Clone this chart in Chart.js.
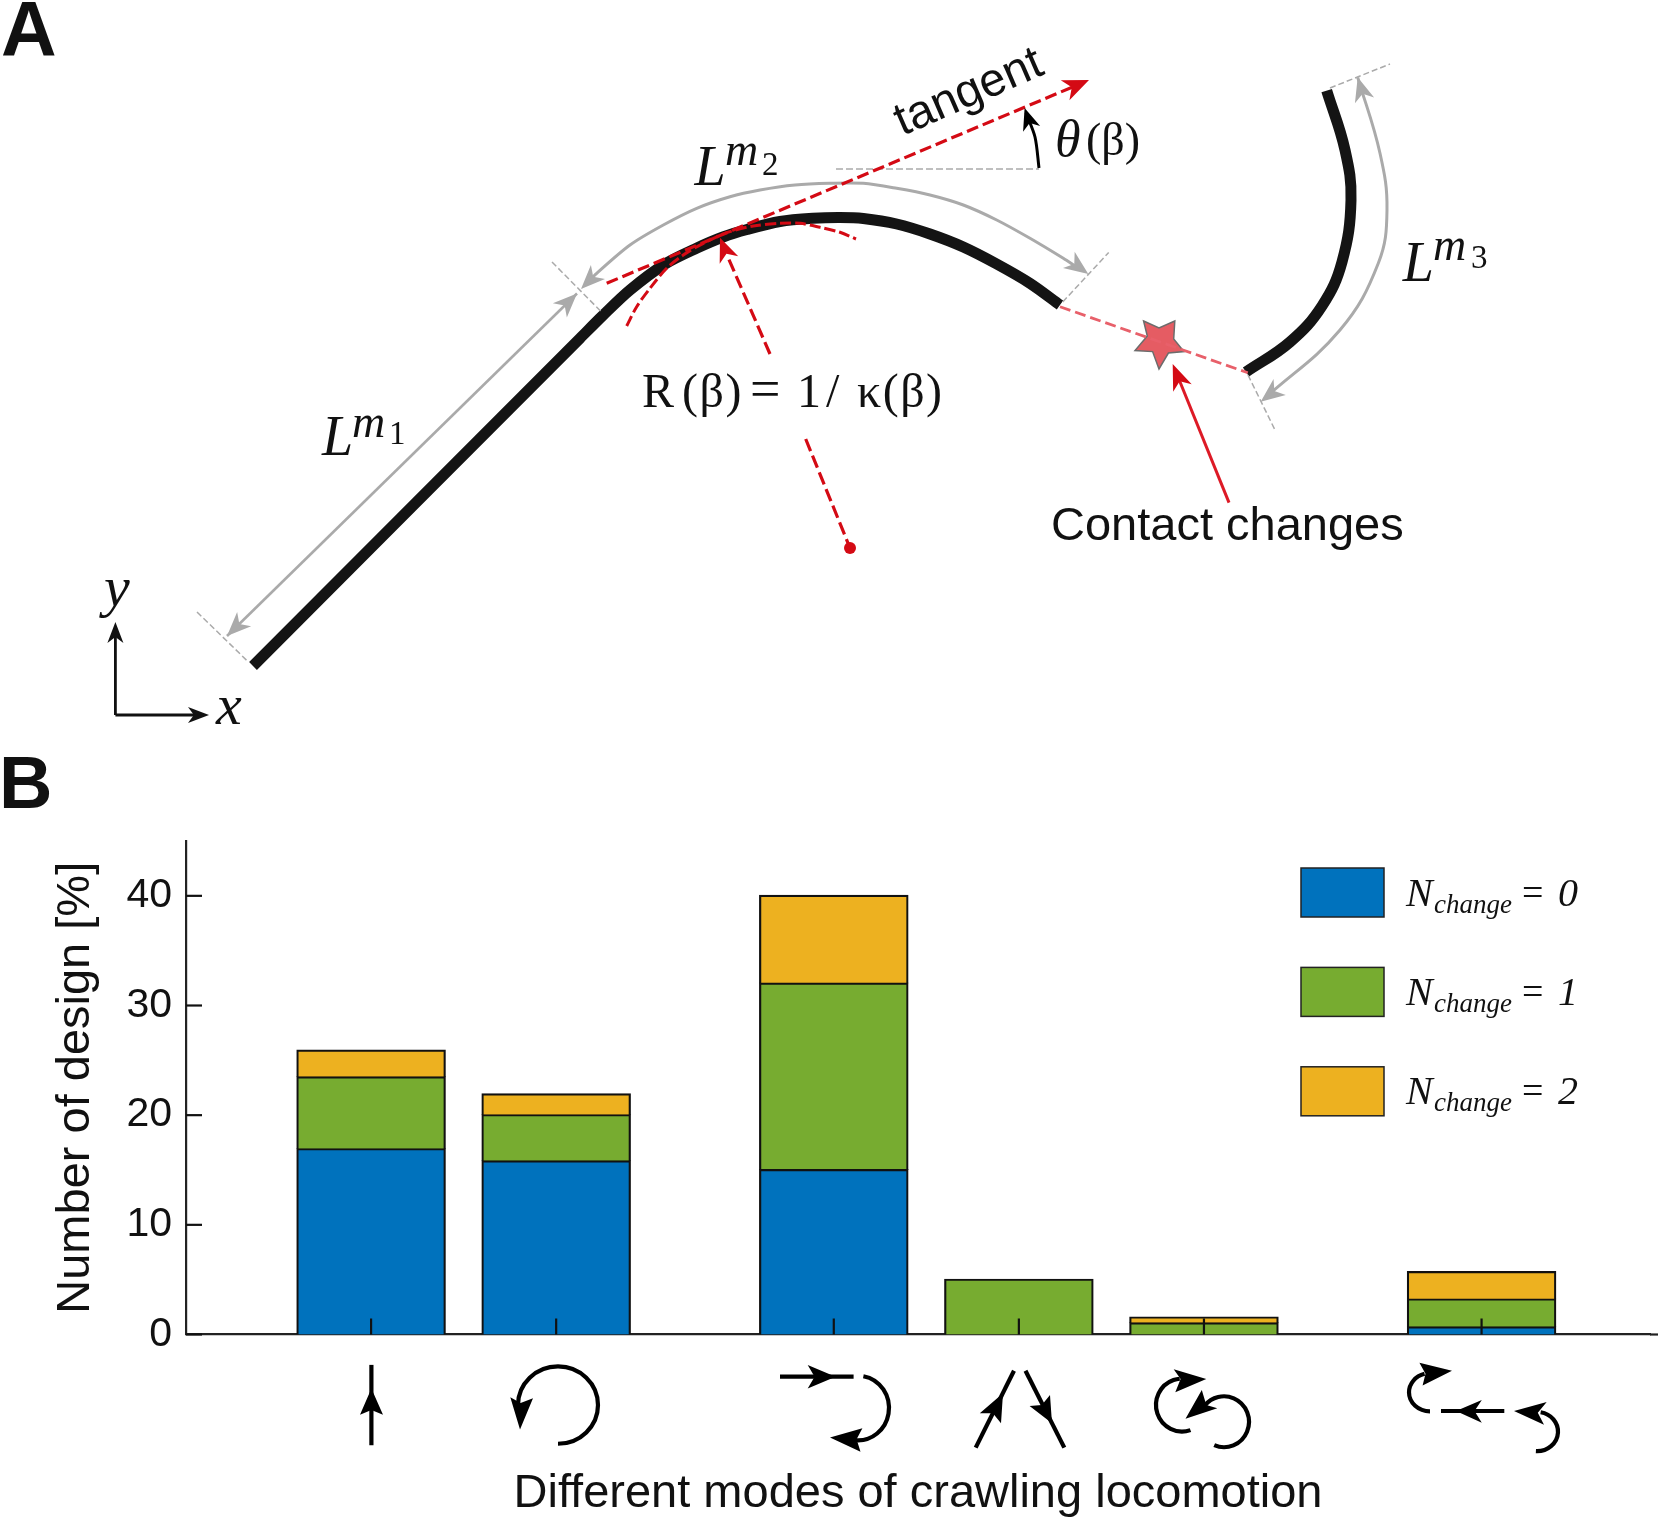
<!DOCTYPE html>
<html><head><meta charset="utf-8">
<style>
html,body{margin:0;padding:0;background:#fff;width:1658px;height:1525px;overflow:hidden}
canvas{position:absolute;left:0;top:0}
</style>
<script src="https://cdn.jsdelivr.net/npm/chart.js@4"></script>
</head><body>
<canvas id="bars" width="1658" height="1525"></canvas>
<canvas id="schematic" width="1658" height="745"></canvas>
<script>
// ---------- chart data (panel B) ----------
const modes = ['straight','turn','straight then turn','split','double turn','turn, straight, turn'];
const modePositions = [1,2,3.5,4.5,5.5,7];
const nChange0 = [16.9,15.8,15,0,0,0.65];
const nChange1 = [6.55,4.2,17,5,1.03,2.55];
const nChange2 = [2.45,1.9,8,0,0.53,2.5];
const seriesLabels = ['N change = 0','N change = 1','N change = 2'];
const yTickValues = [0,10,20,30,40];

const SANS='"Liberation Sans"', SERIF='"Liberation Serif"', INK='#111';

function toXY(vals){return vals.map((v,i)=>({x:modePositions[i],y:v}));}
function stroke(c,pts,w,col,dash){c.save();c.beginPath();c.lineWidth=w;c.strokeStyle=col;c.setLineDash(dash||[]);
  c.moveTo(pts[0][0],pts[0][1]);for(let i=1;i<pts.length;i++)c.lineTo(pts[i][0],pts[i][1]);c.stroke();c.restore();}
function poly(c,pts,fill){c.beginPath();c.moveTo(pts[0][0],pts[0][1]);for(let i=1;i<pts.length;i++)c.lineTo(pts[i][0],pts[i][1]);c.closePath();c.fillStyle=fill;c.fill();}
function txt(c,s,x,y,font,col,align,spacing){c.save();c.font=font;c.fillStyle=col||INK;c.textAlign=align||'left';c.textBaseline='alphabetic';
  if(spacing)c.letterSpacing=spacing+'px';c.fillText(s,x,y);c.restore();}

// Mode pictograms below the axis: lines, elliptical arcs and stealth heads [tip, wing, notch, wing]
const iconLines=[
 [[371.4,1366],[371.4,1448]],
 [[780,1378],[853.6,1378]],
 [[975.7,1450.5],[1014,1372]],
 [[1025.5,1372],[1064.3,1450.5]],
 [[1441,1413],[1504.3,1413]]];
const iconArcs=[ // cx, cy, rx, ry, start deg, end deg, anticlockwise
 [558,1407,40,39.5,90,180,true],
 [858,1410,31,33,-80,94,false],
 [1182,1407,26,27,71,265,false],
 [1224,1424,25,26,113,-140,true],
 [1430,1394,21,19.5,90,255,false],
 [1537,1434,21,20,93,-80,true]];
const iconHeads=[
 [[371.4,1390],[360,1417],[371.4,1412],[383,1417]],
 [[520,1432],[510.3,1399],[520.6,1405],[533,1400]],
 [[835.6,1378],[807.7,1366],[814.6,1378],[807.7,1390]],
 [[830,1440],[862.4,1430.7],[856.6,1442],[860.5,1454.6]],
 [[1003,1395],[979.8,1415.4],[992.9,1415.4],[1001,1425.6]],
 [[1052,1425.6],[1029.6,1408],[1041.8,1407],[1050,1396.7]],
 [[1206.3,1380.4],[1173.7,1370.5],[1180.6,1380.4],[1175.3,1394]],
 [[1185.5,1421],[1201.8,1391.6],[1206.3,1407],[1217.3,1410.3]],
 [[1452,1372],[1419.4,1363.7],[1425.5,1375],[1422.6,1387]],
 [[1456,1413],[1481.8,1401.8],[1474.5,1413],[1481.8,1425]],
 [[1514,1413],[1546.7,1404],[1537.8,1414.8],[1544,1427]]];

const barDecor={id:'barDecor',
 afterDatasetsDraw(ch){
  const c=ch.ctx,xs=ch.scales.x,ys=ch.scales.y,base=ys.getPixelForValue(0),L=xs.left;
  modePositions.forEach(v=>{const p=xs.getPixelForValue(v);stroke(c,[[p,base],[p,base-16]],2.2,INK);});
  yTickValues.forEach(v=>{const p=ys.getPixelForValue(v);stroke(c,[[L,p],[L+16,p]],2.2,INK);});
  stroke(c,[[xs.right,base],[1658,base]],2.2,'#222');
  // panel letter
  txt(c,'B',-1,808,'bold 74px '+SANS,INK);
  // legend
  ch.data.datasets.forEach((d,i)=>{
    const top=868+i*99.4, base=top+37.5;
    c.fillStyle=d.backgroundColor;c.fillRect(1301,top,83,49);
    c.strokeStyle='#222';c.lineWidth=1.5;c.strokeRect(1301,top,83,49);
    const parts=d.label.split(' ');
    txt(c,parts[0],1406,base,'italic 40px '+SERIF,INK);
    txt(c,parts[1],1434,base+7,'italic 27px '+SERIF,INK);
    txt(c,parts[2],1522,base-1,'38px '+SERIF,INK);
    txt(c,parts[3],1558,base,'italic 40px '+SERIF,INK);
  });
  // pictograms
  c.save();c.translate(0,1310);c.scale(1,0.98);c.translate(0,-1310);
  iconLines.forEach(l=>stroke(c,l,4.2,'#000'));
  iconArcs.forEach(a=>{c.save();c.beginPath();c.lineWidth=4.2;c.strokeStyle='#000';
    c.ellipse(a[0],a[1],a[2],a[3],0,a[4]*Math.PI/180,a[5]*Math.PI/180,a[6]);c.stroke();c.restore();});
  iconHeads.forEach(h=>poly(c,h,'#000'));
  c.restore();
 }};

new Chart(document.getElementById('bars'),{
 type:'bar',
 data:{labels:modes,datasets:[
  {label:seriesLabels[0],data:toXY(nChange0),backgroundColor:'#0072BD'},
  {label:seriesLabels[1],data:toXY(nChange1),backgroundColor:'#77AC30'},
  {label:seriesLabels[2],data:toXY(nChange2),backgroundColor:'#EDB120'}
 ].map(d=>Object.assign(d,{borderColor:'#111',borderWidth:2.2,inflateAmount:1,barThickness:147.5}))},
 options:{responsive:false,animation:false,events:[],
  layout:{padding:{left:0,right:8,top:841,bottom:0}},
  plugins:{legend:{display:false},tooltip:{enabled:false}},
  scales:{
   x:{type:'linear',stacked:true,offset:false,min:0,max:7.91,
      afterBuildTicks(s){s.ticks=modePositions.map(v=>({value:v}));},
      afterFit(s){s.height=190.5;},
      grid:{display:false,drawTicks:false,offset:false},
      border:{color:'#222',width:2.2},
      ticks:{display:false},
      title:{display:true,text:'Different modes of crawling locomotion',color:INK,
             font:{family:SANS,size:47},padding:{top:0,bottom:3}}},
   y:{stacked:true,min:0,max:45,
      afterFit(s){s.width=186;},
      grid:{display:false,drawTicks:false},
      border:{color:'#222',width:2.2},
      ticks:{stepSize:10,includeBounds:false,color:INK,padding:14,font:{family:SANS,size:41}},
      title:{display:true,text:'Number of design [%]',color:INK,
             font:{family:SANS,size:47},padding:{top:47.5,bottom:0}}}
  }},
 plugins:[barDecor]});

// ---------- schematic (panel A) ----------
const RED='#d40a14', GREY='#aaaaaa';
const pathM1M2=[[253,666],[580,338.3],[603.3,315],[630,290],[665,264],[697,248],[723,237],[747,229.5],[780,221.5],[813,218.3],[840,217.5],[863.3,218.5],[896.7,224],[930,234],[963.3,247],[996.7,264],[1030,283.3],[1060,305]];
const pathM3=[[1326.7,90.7],[1345,150],[1351,200],[1342,262],[1322,306],[1290,342],[1246,372]];
const arrowM1=[[577,293.5],[227,636]];
const arrowM2=[[585,285],[596.7,273.3],[630,245],[663.3,225],[696.7,208.3],[730,196.7],[760,190],[795,185],[830,183.3],[863.3,183.3],[896.7,188.3],[930,195],[963.3,205],[996.7,220],[1030,238.3],[1063.3,258.3],[1075,266]];
const arrowM3=[[1357.7,77.3],[1380,153.3],[1387,210],[1378.3,263.3],[1340,330],[1265,398]];
const tickM1a=[[552,262],[601,311.5]], tickM1b=[[197,612],[248,661.6]];
const tickM2=[[1062.7,302],[1108.7,252.5]];
const tickM3a=[[1330,88],[1390,64]], tickM3b=[[1248,375],[1275,430]];
const tangentLine=[[606.7,283.3],[1075,86]];
const osculating=[[626.7,326],[636.7,306.7],[650,288.3],[666.7,268.3],[683.3,255],[703.3,243.3],[726.7,232.7],[753.3,226],[780,223.3],[800,223.3],[820,227.3],[840,232.3],[856,239]];
const radiusUpper=[[770,354],[727,255]], radiusLower=[[805.7,439],[850,548]];
const angleBase=[[836,169],[1039,169]];
const angleArc=[[1039,168],[1035,137],[1026,113]];
const contactGap=[[1060,306.7],[1247.8,372.8]];
const contactArrow=[[1229,502.6],[1176,372]];
const axisY=[[115.4,715],[115.4,630]], axisX=[[115.4,715],[200,715]];

function seg(data,width,color,dash,tension,cap){return{data:data.map(p=>({x:p[0],y:p[1]})),showLine:true,borderColor:color,
  borderWidth:width,borderDash:dash||[],tension:tension||0,pointRadius:0,borderCapStyle:cap||'butt',clip:false};}

const stealth=[ // tip, direction-from, length, half-width, colour
 [[577,293.5],[227,636],24,10,GREY],[[227,636],[577,293.5],24,10,GREY],
 [[581,289],[596.7,273.3],24,10,GREY],[[1088.3,274],[1063.3,256],24,10,GREY],
 [[1357.7,77.3],[1368,112],24,10,GREY],[[1260.7,401.7],[1290,379],24,10,GREY],
 [[1089,80],[1040,101],26,11,RED],[[720,237.7],[733,270],24,10,RED],
 [[1172.7,364],[1184,392],26,10,RED],[[1024.6,108],[1033,133],22,9,'#000'],
 [[115.4,622],[115.4,640],21,8,INK],[[209,715],[185,715],21,8,INK]];
const starShape=[[1143.6,321],[1159,328],[1174.8,321],[1173.7,339],[1184,351.6],[1168.4,353],[1159,369],[1152.6,351.6],[1135,350.6],[1147.3,336]];

const schemDecor={id:'schemDecor',
 beforeDatasetsDraw(ch){
  const c=ch.ctx;
  c.save();poly(c,starShape,'#e55c63');c.strokeStyle='#6c6c6c';c.lineWidth=1.5;c.stroke();c.restore();
 },
 afterDatasetsDraw(ch){
  const c=ch.ctx;
  stealth.forEach(([t,f,len,hw,col])=>{
    const a=Math.atan2(t[1]-f[1],t[0]-f[0]),ca=Math.cos(a),sa=Math.sin(a);
    const bx=t[0]-ca*len,by=t[1]-sa*len,nx=t[0]-ca*len*0.72,ny=t[1]-sa*len*0.72;
    poly(c,[t,[bx-sa*hw,by+ca*hw],[nx,ny],[bx+sa*hw,by-ca*hw]],col);});
  c.beginPath();c.arc(850,548,6,0,Math.PI*2);c.fillStyle=RED;c.fill();
  txt(c,'A',1,56,'bold 77px '+SANS,INK);
  txt(c,'Contact changes',1051,540,'47px '+SANS,INK);
  c.save();c.translate(968.5,92);c.rotate(-23.5*Math.PI/180);txt(c,'tangent',0,14,'47px '+SANS,INK,'center');c.restore();
  // R (β) = 1/ κ(β)
  txt(c,'R',642,406.7,'48px '+SERIF,INK);
  txt(c,'(β)',682,406.7,'48px '+SERIF,INK,'left',1.5);
  txt(c,'=',750,406.7,'54px '+SERIF,INK);
  txt(c,'1/',797,406.7,'48px '+SERIF,INK,'left',5);
  txt(c,'κ(β)',857,406.7,'48px '+SERIF,INK,'left',1.5);
  [[322,455,352,436.5,389,443.6,'1'],[694.6,185,725,165,762,174.6,'2'],[1402.7,281,1433,259.6,1471,268,'3']].forEach(r=>{
    txt(c,'L',r[0],r[1],'italic 56px '+SERIF,INK);
    txt(c,'m',r[2],r[3],'italic 46px '+SERIF,INK);
    txt(c,r[6],r[4],r[5],'33px '+SERIF,INK);});
  txt(c,'θ',1055,156,'italic 52px '+SERIF,INK);
  txt(c,'(β)',1086,155,'46px '+SERIF,INK);
  txt(c,'x',216,724,'italic 58px '+SERIF,INK);
  txt(c,'y',104,606,'italic 58px '+SERIF,INK);
 }};

// Chart.js paints the first dataset last, so the list is reversed to keep the black strokes underneath
new Chart(document.getElementById('schematic'),{
 type:'scatter',
 data:{datasets:[
  seg(pathM1M2,11,'#141414',[],0.3),
  seg(pathM3,11,'#141414',[],0.4),
  seg(arrowM1,2.6,GREY),
  seg(arrowM2,3,GREY,[],0.3),
  seg(arrowM3,3,GREY,[],0.4),
  seg(tickM1a,1.5,GREY,[6,3]),seg(tickM1b,1.5,GREY,[6,3]),seg(tickM2,1.5,GREY,[6,3]),
  seg(tickM3a,1.5,GREY,[6,3]),seg(tickM3b,1.5,GREY,[6,3]),
  seg(angleBase,1.5,GREY,[7,3]),
  seg(angleArc,3,'#000',[],0.3),
  seg(contactGap,2.8,'#e8606a',[11,5]),
  seg(contactArrow,3,'#dd1a26'),
  seg(tangentLine,3.2,RED,[12,5]),
  seg(osculating,3,RED,[11,4],0.3),
  seg(radiusUpper,3.2,RED,[13,5]),
  seg(radiusLower,3.2,RED,[13,5]),
  seg(axisY,2.8,INK),seg(axisX,2.8,INK)
 ].reverse()},
 options:{responsive:false,animation:false,events:[],layout:{padding:0},
  plugins:{legend:{display:false},tooltip:{enabled:false}},
  scales:{x:{type:'linear',display:false,min:0,max:1658},
          y:{type:'linear',display:false,min:0,max:745,reverse:true}}},
 plugins:[schemDecor]});
</script>
</body></html>
